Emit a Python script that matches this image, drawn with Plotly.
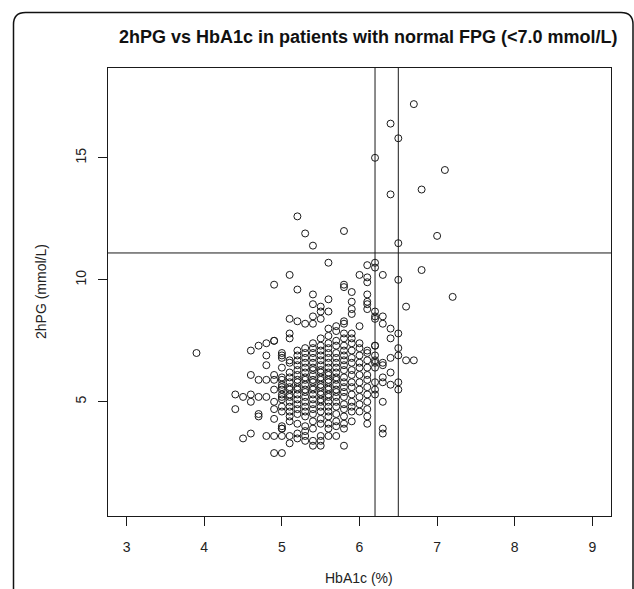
import plotly.graph_objects as go

# ---- data ----
hba1c_levels = [3.9, 4.4, 4.5, 4.6, 4.7, 4.8, 4.9, 5.0, 5.1, 5.2, 5.3, 5.4, 5.5,
                5.6, 5.7, 5.8, 5.9, 6.0, 6.1, 6.2, 6.3, 6.4, 6.5, 6.6, 6.7, 6.8,
                7.0, 7.1, 7.2]

pg_39 = [7.0]
pg_44 = [5.3, 4.7]
pg_45 = [5.2, 3.5]
pg_46 = [7.1, 6.1, 5.3, 5.0, 3.7]
pg_47 = [7.3, 5.9, 5.2, 4.5, 4.4]
pg_48 = [7.4, 6.9, 6.5, 5.9, 5.2, 3.6]
pg_49 = [9.8, 7.5, 7.5, 6.1, 5.9, 5.5, 5.0, 4.7, 4.3, 3.6, 2.9]
pg_50 = [7.0, 6.9, 6.8, 6.4, 6.0, 5.9, 5.7, 5.6, 5.5, 5.3, 5.2, 5.1, 4.8, 4.6,
         4.0, 3.9, 3.6, 3.9, 2.9]
pg_51 = [10.2, 8.4, 7.8, 7.6, 6.7, 6.6, 6.2, 6.0, 5.8, 5.6, 5.5, 5.3, 5.2, 5.0,
         4.8, 4.6, 4.4, 4.2, 3.6, 3.3]
pg_52 = [12.6, 9.6, 8.3, 7.1, 6.9, 6.7, 6.5, 6.3, 6.1, 5.9, 5.8, 5.6, 5.5, 5.3,
         5.1, 4.9, 4.7, 4.5, 4.1, 3.7, 3.5]
pg_53 = [11.9, 8.2, 7.2, 7.0, 6.8, 6.6, 6.4, 6.2, 6.0, 5.9, 5.7, 5.5, 5.4, 5.2,
         5.0, 4.8, 4.6, 4.4, 4.0, 3.8, 3.6, 3.4]
pg_54 = [11.4, 9.4, 9.0, 8.5, 8.2, 7.4, 7.2, 7.0, 6.8, 6.6, 6.4, 6.3, 6.1, 5.9,
         5.8, 5.6, 5.5, 5.3, 5.1, 4.9, 4.7, 4.5, 4.2, 3.9, 3.4, 3.2]
pg_55 = [8.9, 8.7, 8.4, 7.6, 7.3, 7.1, 6.9, 6.7, 6.5, 6.3, 6.2, 6.0, 5.9, 5.7,
         5.6, 5.4, 5.3, 5.1, 5.0, 4.8, 4.6, 4.3, 4.1, 3.6, 3.4, 3.2]
pg_56 = [10.7, 9.2, 8.7, 8.0, 7.7, 7.4, 7.2, 7.0, 6.8, 6.6, 6.4, 6.2, 6.1, 5.9,
         5.8, 5.6, 5.5, 5.3, 5.2, 5.0, 4.8, 4.6, 4.4, 4.1, 3.9, 3.6]
pg_57 = [8.1, 7.9, 7.5, 7.3, 7.0, 6.8, 6.6, 6.4, 6.2, 6.0, 5.9, 5.7, 5.5, 5.4,
         5.2, 5.0, 4.8, 4.5, 4.2, 4.0, 3.6]
pg_58 = [12.0, 9.8, 9.7, 8.3, 8.2, 7.8, 7.6, 7.3, 7.1, 6.9, 6.7, 6.5, 6.3, 6.0,
         5.8, 5.6, 5.4, 5.2, 4.9, 4.7, 4.4, 4.1, 3.9, 3.2]
pg_59 = [9.5, 9.1, 8.8, 8.6, 7.8, 7.6, 7.4, 7.1, 6.8, 6.6, 6.3, 6.1, 5.8, 5.6,
         5.3, 5.0, 4.8, 4.6, 4.2]
pg_60 = [10.2, 8.1, 7.4, 7.2, 6.9, 6.6, 6.4, 6.1, 5.8, 5.5, 5.2, 4.9, 4.6]
pg_61 = [10.6, 10.1, 9.9, 9.4, 9.1, 9.0, 8.8, 7.1, 7.0, 6.7, 6.4, 6.1, 5.9, 5.6,
         5.3, 5.0, 4.7, 4.4, 4.1]
pg_62 = [15.0, 10.7, 10.5, 8.7, 8.5, 8.4, 7.3, 7.3, 6.9, 6.7, 6.6, 6.4, 5.8, 5.5,
         5.3]
pg_63 = [10.2, 8.5, 8.2, 6.6, 6.5, 6.0, 5.8, 5.0, 3.9, 3.7]
pg_64 = [16.4, 13.5, 8.0, 7.6, 6.8, 6.2, 5.7]
pg_65 = [15.8, 11.5, 10.0, 7.8, 7.2, 6.9, 5.8, 5.5]
pg_66 = [8.9, 6.7]
pg_67 = [17.2, 6.7]
pg_68 = [13.7, 10.4]
pg_70 = [11.8]
pg_71 = [14.5]
pg_72 = [9.3]

pg_columns = [pg_39, pg_44, pg_45, pg_46, pg_47, pg_48, pg_49, pg_50, pg_51,
              pg_52, pg_53, pg_54, pg_55, pg_56, pg_57, pg_58, pg_59, pg_60,
              pg_61, pg_62, pg_63, pg_64, pg_65, pg_66, pg_67, pg_68, pg_70,
              pg_71, pg_72]

hba1c_cutoffs = [6.2, 6.5]
pg2h_cutoff = 11.1
x_ticks = [3, 4, 5, 6, 7, 8, 9]
y_ticks = [5, 10, 15]
x_range = [2.76, 9.24]
y_range = [0.32, 18.68]

title_text = "2hPG vs HbA1c in patients with normal FPG (<7.0 mmol/L)"
x_title = "HbA1c (%)"
y_title = "2hPG (mmol/L)"

# ---- build ----
xs, ys = [], []
for hx, col in zip(hba1c_levels, pg_columns):
    for v in col:
        xs.append(hx)
        ys.append(v)

W, H = 634, 589
ML, MR, MT, MB = 108, 23, 68, 73
PW = W - ML - MR
PH = H - MT - MB

FONT = "Liberation Sans, Arial, Helvetica, sans-serif"
INK = "#1a1a1a"

fig = go.Figure()
fig.add_trace(go.Scatter(
    x=xs, y=ys, mode="markers",
    marker=dict(symbol="circle-open", size=7, color=INK,
                line=dict(width=1, color=INK)),
    hoverinfo="x+y", showlegend=False,
))

for c in hba1c_cutoffs:
    fig.add_shape(type="line", xref="x", yref="paper", x0=c, x1=c, y0=0, y1=1,
                  line=dict(color=INK, width=1))
fig.add_shape(type="line", xref="paper", yref="y", x0=0, x1=1,
              y0=pg2h_cutoff, y1=pg2h_cutoff, line=dict(color=INK, width=1))


def px_x(p):
    return (p - ML) / PW


def px_y(p):
    return (H - MB - p) / PH


# outer frame with rounded top corners
r = 12
fl, fr, ft, fb = 13.5, 633, 12.5, 600
path = (f"M {px_x(fl)} {px_y(fb)} L {px_x(fl)} {px_y(ft + r)} "
        f"Q {px_x(fl)} {px_y(ft)} {px_x(fl + r)} {px_y(ft)} "
        f"L {px_x(fr - r)} {px_y(ft)} "
        f"Q {px_x(fr)} {px_y(ft)} {px_x(fr)} {px_y(ft + r)} "
        f"L {px_x(fr)} {px_y(fb)}")
fig.add_shape(type="path", xref="paper", yref="paper", path=path,
              line=dict(color="#111111", width=1.5))

fig.add_annotation(text=f"<b>{title_text}</b>", xref="paper", yref="paper",
                   x=px_x(368), y=px_y(37), showarrow=False,
                   xanchor="center", yanchor="middle",
                   font=dict(family=FONT, size=18, color="#111111"))
fig.add_annotation(text=x_title, xref="paper", yref="paper",
                   x=px_x(359), y=px_y(578), showarrow=False,
                   xanchor="center", yanchor="middle",
                   font=dict(family=FONT, size=14, color="#222222"))
fig.add_annotation(text=y_title, xref="paper", yref="paper",
                   x=px_x(41), y=0.5, showarrow=False, textangle=-90,
                   xanchor="center", yanchor="middle",
                   font=dict(family=FONT, size=14, color="#222222"))

fig.update_layout(
    width=W, height=H,
    margin=dict(l=ML, r=MR, t=MT, b=MB, pad=0),
    paper_bgcolor="white", plot_bgcolor="white",
    font=dict(family=FONT, size=14, color="#222222"),
    xaxis=dict(range=x_range, tickvals=x_ticks, ticks="outside", ticklen=9,
               tickcolor=INK, tickwidth=1, showline=True, linecolor=INK,
               linewidth=1, mirror=True, showgrid=False, zeroline=False,
               ticklabelstandoff=9, tickfont=dict(size=14)),
    yaxis=dict(range=y_range, tickvals=y_ticks, ticks="outside", ticklen=9,
               tickcolor=INK, tickwidth=1, showline=True, linecolor=INK,
               linewidth=1, mirror=True, showgrid=False, zeroline=False,
               tickangle=-90, ticklabelstandoff=6, tickfont=dict(size=14)),
)

fig.write_html(
    "out.html",
    config={"displayModeBar": False},
    post_script="document.body.style.margin='0px';"
                "document.body.style.padding='0px';"
                "document.body.style.overflow='hidden';",
)
